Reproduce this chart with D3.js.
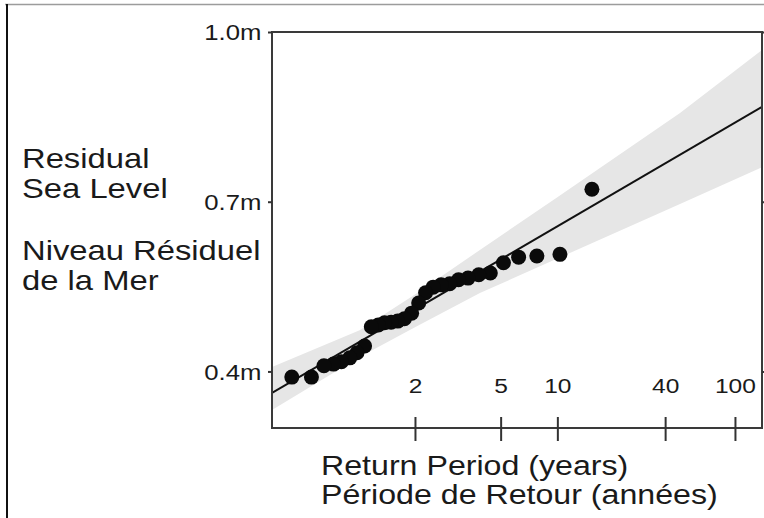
<!DOCTYPE html>
<html>
<head>
<meta charset="utf-8">
<title>Return period plot</title>
<style>
  html, body { margin: 0; padding: 0; background: #fff; }
  svg text { font-family: "Liberation Sans", Arial, sans-serif; fill: #1a1a1a; }
  .axis line { stroke: #333; stroke-width: 2; }
  .axis .domain { display: none; }
  .axis text { font-size: 21px; }
</style>
<script src="https://cdn.jsdelivr.net/npm/d3@7"></script>
</head>
<body>
<div id="main"></div>
<script>
// observed annual maxima, plotted against return period (years)
var returnPeriods = [15.5, 10.33, 7.75, 6.2, 5.17, 4.43, 3.88, 3.44, 3.1, 2.82,
                     2.58, 2.38, 2.21, 2.07, 1.94, 1.82, 1.72, 1.63, 1.55, 1.48,
                     1.41, 1.35, 1.29, 1.24, 1.19, 1.15, 1.11, 1.07, 1.03];
var levels = [0.722, 0.607, 0.604, 0.602, 0.592, 0.574, 0.571, 0.565, 0.562, 0.555,
              0.553, 0.549, 0.539, 0.521, 0.503, 0.493, 0.489, 0.487, 0.486, 0.482,
              0.479, 0.445, 0.433, 0.424, 0.417, 0.413, 0.410, 0.390, 0.390];

// fitted line and its confidence band
var fitPeriods = [1.0102, 142.8];
var fitLevels = [0.362, 0.8675];
var bandPeriods = [1.0102, 1.31, 2, 3.93, 10, 48.6, 142.8];
var bandLower = [0.332, 0.4255, 0.478, 0.5386, 0.5995, 0.696, 0.761];
var bandUpper = [0.408, 0.473, 0.536, 0.6147, 0.7078, 0.857, 0.968];

var xTicks = [2, 5, 10, 40, 100];
var yTicks = [0.4, 0.7, 1.0];
var yTickLabels = ["0.4m", "0.7m", "1.0m"];
var yTitle = ["Residual", "Sea Level", "Niveau Résiduel", "de la Mer"];
var xTitle = ["Return Period (years)", "Période de Retour (années)"];

var width = 764, height = 518;
var plotLeft = 272, plotRight = 762, plotTop = 32, plotBottom = 428;
var stretch = "scale(1.17,1)";

function gumbel(T) { return -Math.log(-Math.log(1 - 1 / T)); }

var svg = d3.select("#main").append("svg")
    .attr("width", width)
    .attr("height", height);

// outer frame of the figure
svg.append("line").attr("x1", 5).attr("x2", width).attr("y1", 4.5).attr("y2", 4.5)
    .attr("stroke", "#9c9c9c").attr("stroke-width", 1.5);
svg.append("line").attr("x1", 7).attr("x2", 7).attr("y1", 4).attr("y2", height)
    .attr("stroke", "#111").attr("stroke-width", 2);

var x = d3.scaleLinear()
    .domain([gumbel(fitPeriods[0]), gumbel(fitPeriods[1])])
    .range([plotLeft, plotRight]);
var y = d3.scaleLinear().domain([0.3, 1.0]).range([plotBottom, plotTop]);

svg.append("clipPath").attr("id", "plot")
  .append("rect").attr("x", plotLeft).attr("y", plotTop)
    .attr("width", plotRight - plotLeft).attr("height", plotBottom - plotTop);

var inner = svg.append("g").attr("clip-path", "url(#plot)");

var band = bandPeriods.map(function(T, i) { return { T: T, lo: bandLower[i], hi: bandUpper[i] }; });
inner.append("path")
    .datum(band)
    .attr("fill", "#e6e6e6")
    .attr("d", d3.area()
        .x(function(d) { return x(gumbel(d.T)); })
        .y0(function(d) { return y(d.lo); })
        .y1(function(d) { return y(d.hi); }));

inner.append("path")
    .datum(fitPeriods.map(function(T, i) { return [T, fitLevels[i]]; }))
    .attr("fill", "none")
    .attr("stroke", "#111")
    .attr("stroke-width", 2)
    .attr("d", d3.line()
        .x(function(d) { return x(gumbel(d[0])); })
        .y(function(d) { return y(d[1]); }));

inner.selectAll("circle")
    .data(returnPeriods)
    .enter()
    .append("circle")
    .attr("cx", function(d) { return x(gumbel(d)); })
    .attr("cy", function(d, i) { return y(levels[i]); })
    .attr("r", 7.5)
    .attr("fill", "#0a0a0a");

// plot box
svg.append("rect")
    .attr("x", plotLeft).attr("y", plotTop)
    .attr("width", plotRight - plotLeft).attr("height", plotBottom - plotTop)
    .attr("fill", "none")
    .attr("stroke", "#3a3a3a")
    .attr("stroke-width", 2);

var xAxis = svg.append("g")
    .attr("class", "axis")
    .attr("transform", "translate(0," + plotBottom + ")")
    .call(d3.axisBottom(x)
        .tickValues(xTicks.map(gumbel))
        .tickSize(13)
        .tickFormat(function(d, i) { return xTicks[i]; }));
xAxis.selectAll(".tick line").attr("y1", -11);
xAxis.selectAll(".tick text")
    .attr("y", -35).attr("dy", 0)
    .attr("transform", stretch);

svg.append("g")
    .attr("class", "axis")
    .attr("transform", "translate(" + plotLeft + ",0)")
    .call(d3.axisLeft(y)
        .tickValues(yTicks)
        .tickSize(4)
        .tickPadding(5)
        .tickFormat(function(d, i) { return yTickLabels[i]; }))
  .selectAll(".tick text")
    .attr("dy", "0.36em")
    .style("font-size", "22px")
    .attr("transform", stretch);

svg.append("g")
    .attr("class", "axis")
    .attr("transform", "translate(" + plotRight + ",0)")
    .call(d3.axisRight(y).tickValues(yTicks).tickSize(4).tickFormat(""));

var yTitleBase = [168, 198, 260, 290];
svg.selectAll(".ytitle")
    .data(yTitle)
    .enter()
    .append("text")
    .attr("class", "ytitle")
    .attr("transform", function(d, i) { return "translate(22," + yTitleBase[i] + ") " + stretch; })
    .style("font-size", "28px")
    .text(function(d) { return d; });

var xTitleBase = [475, 504];
svg.selectAll(".xtitle")
    .data(xTitle)
    .enter()
    .append("text")
    .attr("class", "xtitle")
    .attr("transform", function(d, i) { return "translate(321," + xTitleBase[i] + ") " + stretch; })
    .style("font-size", "27.5px")
    .text(function(d) { return d; });
</script>
</body>
</html>
